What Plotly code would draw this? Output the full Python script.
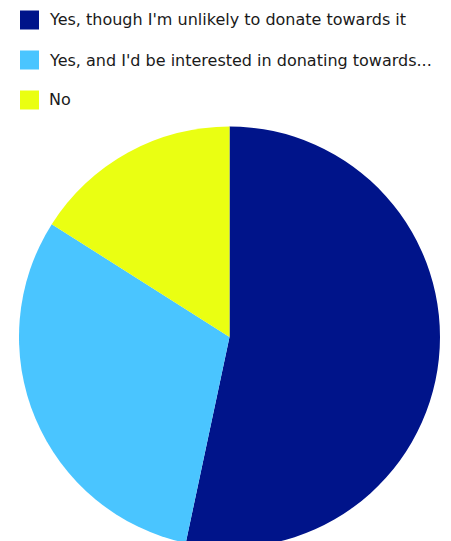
import plotly.graph_objects as go

# Survey answers and response counts
labels = [
    "Yes, though I'm unlikely to donate towards it",
    "Yes, and I'd be interested in donating towards...",
    "No",
]
counts = [40, 23, 12]
colors = ["#00148A", "#4AC5FF", "#EAFF12"]

W, H = 451, 548
ML, MR, MT, MB = 19, 11, 126, 0
plot_w = W - ML - MR
plot_h = H - MT - MB


def px_x(px):
    return (px - ML) / plot_w


def px_y(py):
    return 1 - (py - MT) / plot_h


fig = go.Figure(
    go.Pie(
        labels=labels,
        values=counts,
        marker=dict(colors=colors, line=dict(width=0)),
        sort=False,
        direction="clockwise",
        rotation=0,
        textinfo="none",
        hoverinfo="label+percent",
        showlegend=False,
    )
)

# Legend drawn as square swatches with text labels beside them
shapes = []
annotations = []
row_centers = [20, 60, 100]
for lab, col, cy in zip(labels, colors, row_centers):
    shapes.append(dict(
        type="rect", xref="paper", yref="paper",
        x0=px_x(20), x1=px_x(39), y0=px_y(cy + 9.5), y1=px_y(cy - 9.5),
        fillcolor=col, line=dict(width=0),
    ))
    annotations.append(dict(
        text=lab, xref="paper", yref="paper",
        x=px_x(47), y=px_y(cy), xanchor="left", yanchor="middle",
        showarrow=False,
        font=dict(family="DejaVu Sans, sans-serif", size=16, color="#1a1a1a"),
    ))

fig.update_layout(
    width=W, height=H,
    margin=dict(l=ML, r=MR, t=MT, b=MB),
    paper_bgcolor="white",
    plot_bgcolor="white",
    shapes=shapes,
    annotations=annotations,
)

fig.write_html(
    "out.html",
    post_script="document.documentElement.style.overflow='hidden';document.body.style.overflow='hidden';",
)
